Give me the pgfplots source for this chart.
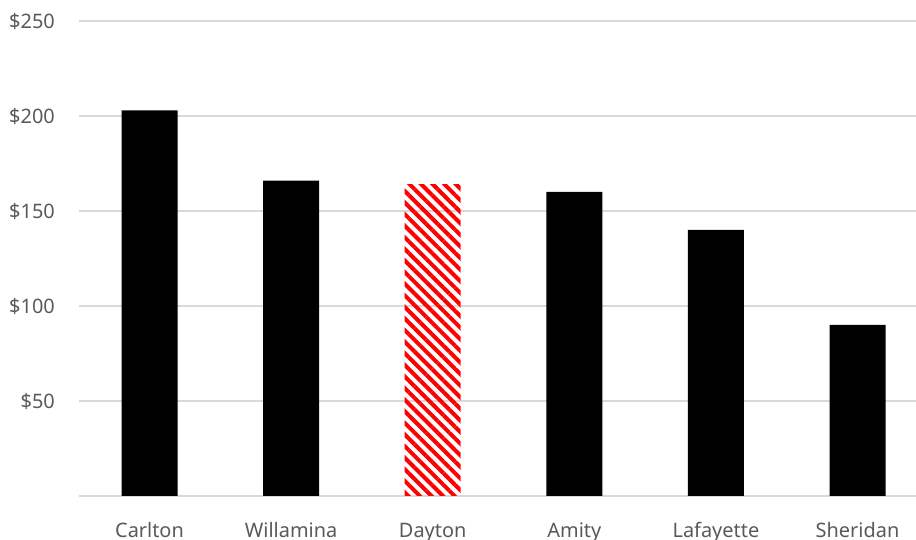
\documentclass[border=0pt]{standalone}
\usepackage{pgfplots}
\pgfplotsset{compat=1.18}
\usepackage{fontspec}
\setmainfont{Noto Sans}
\usetikzlibrary{patterns.meta}
\definecolor{gridgray}{HTML}{D9D9D9}
\definecolor{labelgray}{HTML}{595959}
\begin{document}
\begin{tikzpicture}
\useasboundingbox (0,0) rectangle (916bp,540bp);
\begin{axis}[
  at={(79bp,44bp)}, anchor=south west,
  scale only axis, width=837bp, height=475bp,
  xmin=-0.498, xmax=5.413, ymin=0, ymax=250,
  axis line style={draw=none},
  ybar, bar width=56bp, bar shift=0pt,
  ytick={0,50,100,150,200,250},
  yticklabels={,\$50,\$100,\$150,\$200,\$250},
  xtick={0,1,2,3,4,5},
  xticklabels={Carlton,Willamina,Dayton,Amity,Lafayette,Sheridan},
  ymajorgrids=true, xmajorgrids=false,
  major grid style={draw=gridgray, line width=1.3bp},
  major tick length=0pt,
  tick label style={font=\fontsize{20}{24}\selectfont, text=labelgray},
  yticklabel style={anchor=base east, inner sep=0pt, xshift=-24bp, yshift=-8bp},
  xticklabel style={anchor=base, inner sep=0pt, yshift=-41bp},
  clip=false,
]
\addplot[fill=black, draw=none] coordinates {(0,203) (1,166) (3,160) (4,140) (5,90)};
\addplot[draw=none, pattern={Lines[angle=-45,distance=8.2bp,line width=4bp]}, pattern color=red] coordinates {(2,164)};
\end{axis}
\end{tikzpicture}
\end{document}
